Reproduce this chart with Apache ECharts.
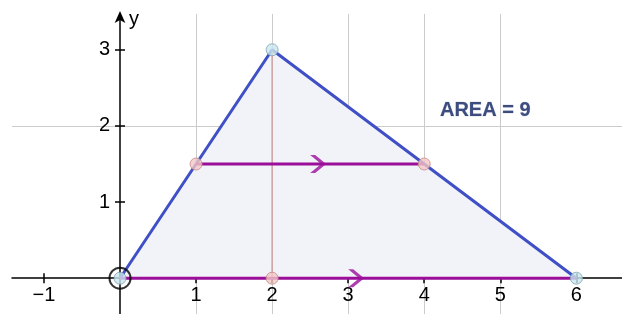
<!DOCTYPE html>
<html>
<head>
<meta charset="utf-8">
<script src="https://cdn.jsdelivr.net/npm/echarts@6/dist/echarts.min.js"></script>
<style>
  html, body { margin: 0; padding: 0; background: #fff; }
  #main { width: 622px; height: 314px; }
</style>
</head>
<body>
<div id="main"></div>
<script>
// 三角形顶点、中点、高
var triangle = [[0, 0], [2, 3], [6, 0]];
var midPoints = [[1, 1.5], [4, 1.5], [2, 0]];
var upperSeg = [[1, 1.5], [4, 1.5]];
var baseSeg = [[0, 0], [6, 0]];
var heightSeg = [[2, 0], [2, 3]];
var xTicks = [-1, 1, 2, 3, 4, 5, 6];
var yTicks = [1, 2, 3];
var areaText = 'AREA = 9';
var areaTextAt = [4.2, 2.2];

var xMin = -1.42, xMax = 6.6;
var yMin = -0.47, yMax = 3.47;

// 箭头放在线段中点
var arrows = [upperSeg, baseSeg].map(function (s) {
    return [(s[0][0] + s[1][0]) / 2, (s[0][1] + s[1][1]) / 2];
});

var font = 'Arial, "Liberation Sans", sans-serif';
var purple = '#9a0e9a';
var axisColor = '#000';

var myChart = echarts.init(document.getElementById('main'));

var hidden = { show: false };

myChart.setOption({
    animation: false,
    grid: [
        // 主区域
        { left: 12, top: 14, right: 0, bottom: 0, outerBoundsMode: 'none' },
        // x 轴刻度文字（下边缘在 y=0 处）
        { left: 12, top: 14, right: 0, bottom: 36, outerBoundsMode: 'none' },
        // y 轴刻度文字（左边缘在 x=0 处）
        { left: 120, top: 14, right: 0, bottom: 0, outerBoundsMode: 'none' }
    ],
    xAxis: [{
        type: 'value', gridIndex: 0,
        min: xMin, max: xMax, minInterval: 1, maxInterval: 1,
        axisLine: { onZero: true, lineStyle: { color: axisColor, width: 1.5 } },
        axisTick: { customValues: xTicks, length: 5, lineStyle: { color: axisColor, width: 1.5 } },
        axisLabel: hidden,
        splitLine: { show: true, showMinLine: false, showMaxLine: false, lineStyle: { color: '#cbcbcb', width: 1 } }
    }, {
        type: 'value', gridIndex: 0, position: 'bottom',
        min: xMin, max: xMax, minInterval: 1, maxInterval: 1,
        axisLine: { show: false, onZero: true },
        axisTick: { customValues: xTicks, inside: true, length: 5, lineStyle: { color: axisColor, width: 1.5 } },
        axisLabel: hidden,
        splitLine: hidden
    }, {
        type: 'value', gridIndex: 1, position: 'bottom',
        min: xMin, max: xMax, minInterval: 1, maxInterval: 1,
        axisLine: hidden, axisTick: hidden, splitLine: hidden,
        axisLabel: {
            customValues: xTicks,
            margin: 7,
            fontSize: 20,
            fontFamily: font,
            color: '#000',
            formatter: function (v) { return v < 0 ? '\u2212' + (-v) : '' + v; }
        }
    }, {
        type: 'value', gridIndex: 2,
        min: 0, max: 1,
        axisLine: hidden, axisTick: hidden, splitLine: hidden, axisLabel: hidden
    }],
    yAxis: [{
        type: 'value', gridIndex: 0,
        min: yMin, max: yMax, minInterval: 1, maxInterval: 1,
        name: 'y',
        nameLocation: 'end',
        nameGap: -5,
        nameTextStyle: {
            fontSize: 20, fontFamily: font, color: '#000',
            align: 'left', verticalAlign: 'middle', padding: [0, 0, 0, 9]
        },
        axisLine: {
            onZero: true,
            symbol: ['none', 'arrow'],
            symbolSize: [8, 12],
            symbolOffset: [0, 3],
            lineStyle: { color: axisColor, width: 1.5 }
        },
        axisTick: { customValues: yTicks, length: 5, lineStyle: { color: axisColor, width: 1.5 } },
        axisLabel: hidden,
        splitLine: { show: true, showMinLine: false, showMaxLine: false, lineStyle: { color: '#cbcbcb', width: 1 } }
    }, {
        type: 'value', gridIndex: 0, position: 'left',
        min: yMin, max: yMax, minInterval: 1, maxInterval: 1,
        axisLine: { show: false, onZero: true },
        axisTick: { customValues: yTicks, inside: true, length: 5, lineStyle: { color: axisColor, width: 1.5 } },
        axisLabel: hidden,
        splitLine: hidden
    }, {
        type: 'value', gridIndex: 1,
        min: 0, max: 1,
        axisLine: hidden, axisTick: hidden, splitLine: hidden, axisLabel: hidden
    }, {
        type: 'value', gridIndex: 2, position: 'left',
        min: yMin, max: yMax, minInterval: 1, maxInterval: 1,
        axisLine: hidden, axisTick: hidden, splitLine: hidden,
        axisLabel: { customValues: yTicks, margin: 10, fontSize: 20, fontFamily: font, color: '#000' }
    }],
    series: [
        {
            // 三角形填充和两条边
            type: 'line',
            data: triangle,
            symbol: 'none',
            lineStyle: { color: '#3f50c6', width: 3 },
            areaStyle: { color: '#f2f2f9', opacity: 1 },
            z: 2
        },
        {
            type: 'line',
            data: heightSeg,
            symbol: 'none',
            lineStyle: { color: '#c48a88', width: 1.2 },
            z: 3
        },
        {
            type: 'line',
            data: upperSeg,
            symbol: 'none',
            lineStyle: { color: purple, width: 3 },
            z: 3
        },
        {
            type: 'line',
            data: baseSeg,
            symbol: 'none',
            lineStyle: { color: purple, width: 3 },
            z: 3
        },
        {
            type: 'scatter',
            data: arrows,
            symbol: 'path://M0,0 L5,0 L16,9 L5,18 L0,18 L11,9 Z',
            symbolSize: [16, 18],
            symbolOffset: [8, 0],
            itemStyle: { color: purple },
            z: 4
        },
        {
            // 原点的圈
            type: 'scatter',
            data: [triangle[0]],
            symbol: 'circle',
            symbolSize: 21,
            itemStyle: { color: 'rgba(0,0,0,0)', borderColor: '#000', borderWidth: 2 },
            z: 4
        },
        {
            type: 'scatter',
            data: triangle,
            symbolSize: 12,
            itemStyle: { color: '#c9e7ee', borderColor: '#7fa3b0', borderWidth: 1 },
            z: 5
        },
        {
            type: 'scatter',
            data: midPoints,
            symbolSize: 12,
            itemStyle: { color: '#f3c8c6', borderColor: '#c48a88', borderWidth: 1 },
            z: 5
        },
        {
            type: 'scatter',
            data: [areaTextAt],
            symbolSize: 1,
            itemStyle: { color: 'rgba(0,0,0,0)' },
            label: {
                show: true,
                position: 'right',
                distance: 0,
                formatter: areaText,
                fontSize: 20,
                fontWeight: 'bold',
                fontFamily: font,
                color: '#0f2260',
                textBorderColor: 'rgba(15,34,96,0.35)',
                textBorderWidth: 0.6
            },
            z: 5
        }
    ]
});
</script>
</body>
</html>
